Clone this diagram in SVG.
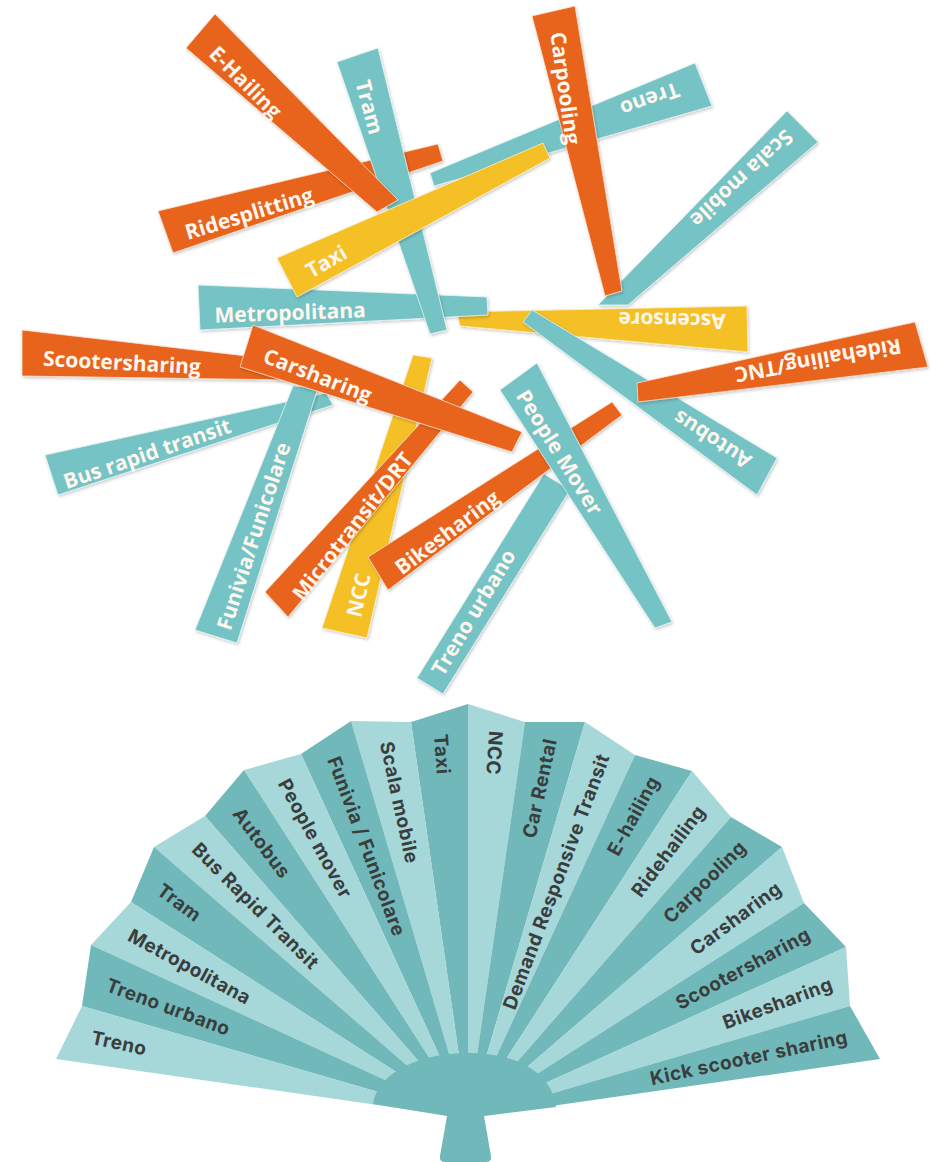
<svg xmlns="http://www.w3.org/2000/svg" width="930" height="1162" viewBox="0 0 930 1162">
<defs>
<filter id="sh" x="-10%" y="-10%" width="120%" height="120%">
<feDropShadow dx="1" dy="1.5" stdDeviation="1.5" flood-color="#000" flood-opacity="0.22"/>
</filter>
<style>
.o{fill:#E8631F;stroke:#FBE3D2;stroke-width:0.8;filter:url(#sh)}
.t{fill:#74C3C5;stroke:#E6F5F5;stroke-width:0.8;filter:url(#sh)}
.y{fill:#F5BF28;stroke:#FDF0CC;stroke-width:0.8;filter:url(#sh)}
.s{font-family:"Open Sans","Liberation Sans",sans-serif;font-weight:700;font-size:21px;fill:#FFF7EE;text-anchor:middle;dominant-baseline:central}
.bl{fill:#A6D7D9}
.bd{fill:#70B8B9}
.f{font-family:Inter,"DejaVu Sans",sans-serif;font-weight:700;font-size:19px;letter-spacing:0.5px;fill:#3A3D3D;dominant-baseline:central}
.fl{text-anchor:start}
.fr{text-anchor:end}
</style>
</defs>
<rect width="930" height="1162" fill="#fff"/>
<g id="sticks">
<g id="s-scala"><polygon class="t" points="787,111 818,142 628,305 598,305"/><text class="s" transform="translate(742,179) rotate(137)">Scala mobile</text></g>
<g id="s-treno"><polygon class="t" points="430,173 695,63 712,106 434,186"/><text class="s" transform="translate(650,100) rotate(160)">Treno</text></g>
<g id="s-carpooling"><polygon class="o" points="532,16 575,6 622,291 605,296"/><text class="s" transform="translate(566,88) rotate(82)">Carpooling</text></g>
<g id="s-ascensore"><polygon class="y" points="457,312 747,306 748,352 460,326"/><text class="s" transform="translate(672,321) rotate(181)">Ascensore</text></g>
<g id="s-metropolitana"><polygon class="t" points="198,285 487,297 488,315 200,330"/><text class="s" transform="translate(290,312) rotate(-2)">Metropolitana</text></g>
<g id="s-ridesplitting"><polygon class="o" points="158,211 438,144 443,161 173,253"/><text class="s" transform="translate(249,213) rotate(-17)">Ridesplitting</text></g>
<g id="s-tram"><polygon class="t" points="337,62 378,48 447,330 430,334"/><text class="s" transform="translate(370,107) rotate(75)">Tram</text></g>
<g id="s-ehailing"><polygon class="o" points="215,14 186,48 377,212 398,200"/><text class="s" transform="translate(246,82) rotate(45)">E-Hailing</text></g>
<g id="s-taxi"><polygon class="y" points="277,258 543,143 550,158 297,297"/><text class="s" transform="translate(326,261) rotate(-30)">Taxi</text></g>
<g id="s-autobus"><polygon class="t" points="532,310 777,458 757,495 523,322"/><text class="s" transform="translate(712,440) rotate(213)">Autobus</text></g>
<g id="s-ridehailing"><polygon class="o" points="637,383 915,322 928,367 638,402"/><text class="s" transform="translate(818,361) rotate(170)">Ridehailing/TNC</text></g>
<g id="s-scootersharing"><polygon class="o" points="22,330 290,361 290,380 22,376"/><text class="s" transform="translate(122,362) rotate(3)">Scootersharing</text></g>
<g id="s-brt"><polygon class="t" points="45,455 326,393 333,405 58,495"/><text class="s" transform="translate(147,453) rotate(-19)">Bus rapid transit</text></g>
<g id="s-funivia"><polygon class="t" points="293,386 318,388 237,643 195,630"/><text class="s" transform="translate(253,536) rotate(-72)">Funivia/Funicolare</text></g>
<g id="s-ncc"><polygon class="y" points="413,355 432,358 367,638 322,628"/><text class="s" transform="translate(358,595) rotate(-77)">NCC</text></g>
<g id="s-microtransit"><polygon class="o" points="460,380 473,392 288,617 265,592"/><text class="s" transform="translate(352,526) rotate(-52)">Microtransit/DRT</text></g>
<g id="s-carsharing"><polygon class="o" points="253,325 522,432 512,452 240,367"/><text class="s" transform="translate(318,375) rotate(21)">Carsharing</text></g>
<g id="s-trenourbano"><polygon class="t" points="544,474 570,490 443,694 417,678"/><text class="s" transform="translate(473,612) rotate(-59)">Treno urbano</text></g>
<g id="s-bikesharing"><polygon class="o" points="612,402 622,415 388,590 368,557"/><text class="s" transform="translate(447,532) rotate(-37)">Bikesharing</text></g>
<g id="s-peoplemover"><polygon class="t" points="500,390 537,363 672,622 655,628"/><text class="s" transform="translate(560,452) rotate(58)">People Mover</text></g>
</g>
<g id="fan">
<g id="blades-left">
<polygon class="bd" points="468,1118 468,704 411,722"/>
<polygon class="bl" points="468,1118 411,722 351,721"/>
<polygon class="bd" points="468,1118 351,721 301,754"/>
<polygon class="bl" points="468,1118 301,754 244,770"/>
<polygon class="bd" points="468,1118 244,770 205,816"/>
<polygon class="bl" points="468,1118 205,816 154,847"/>
<polygon class="bd" points="468,1118 154,847 131,902"/>
<polygon class="bl" points="468,1118 131,902 91,945"/>
<polygon class="bd" points="468,1118 91,945 82,1006"/>
<polygon class="bl" points="468,1118 82,1006 56,1059"/>
</g>
<g id="blades-right">
<polygon class="bl" points="468,1118 468,704 525,722"/>
<polygon class="bd" points="468,1118 525,722 585,722"/>
<polygon class="bl" points="468,1118 585,722 635,755"/>
<polygon class="bd" points="468,1118 635,755 692,771"/>
<polygon class="bl" points="468,1118 692,771 731,817"/>
<polygon class="bd" points="468,1118 731,817 782,847"/>
<polygon class="bl" points="468,1118 782,847 804,903"/>
<polygon class="bd" points="468,1118 804,903 846,947"/>
<polygon class="bl" points="468,1118 846,947 850,1006"/>
<polygon class="bd" points="468,1118 850,1006 880,1059"/>
</g>
<path id="hub" class="bd" d="M373,1104 C378,1072 420,1053 468,1053 C516,1053 552,1072 556,1107 L484,1116 L491,1156 Q492,1162 486,1162 L445,1162 Q439,1162 440,1156 L447,1116 Z"/>
<g id="labels-left">
<text class="f fl" transform="translate(468 1118) rotate(85.9) translate(-385 0)">Taxi</text>
<text class="f fl" transform="translate(468 1118) rotate(77.7) translate(-385 0)">Scala mobile</text>
<text class="f fl" transform="translate(468 1118) rotate(69.5) translate(-385 0)">Funivia / Funicolare</text>
<text class="f fl" transform="translate(468 1118) rotate(61.3) translate(-385 0)">People mover</text>
<text class="f fl" transform="translate(468 1118) rotate(53.1) translate(-385 0)">Autobus</text>
<text class="f fl" transform="translate(468 1118) rotate(44.9) translate(-385 0)">Bus Rapid Transit</text>
<text class="f fl" transform="translate(468 1118) rotate(36.7) translate(-385 0)">Tram</text>
<text class="f fl" transform="translate(468 1118) rotate(28.5) translate(-385 0)">Metropolitana</text>
<text class="f fl" transform="translate(468 1118) rotate(20.3) translate(-385 0)">Treno urbano</text>
<text class="f fl" transform="translate(468 1118) rotate(12.1) translate(-385 0)">Treno</text>
</g>
<g id="labels-right">
<text class="f fl" transform="translate(468 1118) rotate(94.1) translate(-388 0)">NCC</text>
<text class="f fr" transform="translate(468 1118) rotate(-77.7) translate(388 0)">Car Rental</text>
<text class="f fr" transform="translate(468 1118) rotate(-69.5) translate(388 0)">Demand Responsive Transit</text>
<text class="f fr" transform="translate(468 1118) rotate(-61.3) translate(388 0)">E-hailing</text>
<text class="f fr" transform="translate(468 1118) rotate(-53.1) translate(388 0)">Ridehailing</text>
<text class="f fr" transform="translate(468 1118) rotate(-44.9) translate(388 0)">Carpooling</text>
<text class="f fr" transform="translate(468 1118) rotate(-36.7) translate(388 0)">Carsharing</text>
<text class="f fr" transform="translate(468 1118) rotate(-28.5) translate(388 0)">Scootersharing</text>
<text class="f fr" transform="translate(468 1118) rotate(-20.3) translate(388 0)">Bikesharing</text>
<text class="f fr" transform="translate(468 1118) rotate(-12.1) translate(388 0)">Kick scooter sharing</text>
</g>
</g>
</svg>
